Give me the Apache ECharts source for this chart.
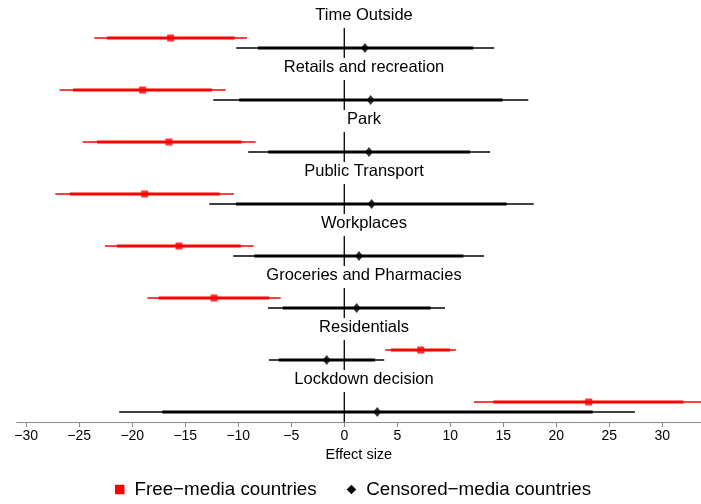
<!DOCTYPE html>
<html>
<head>
<meta charset="utf-8">
<script src="https://cdn.jsdelivr.net/npm/echarts@6/dist/echarts.min.js"></script>
<style>
html,body{margin:0;padding:0;background:#fff;}
#chart{width:701px;height:504px;}
</style>
</head>
<body>
<div id="chart"></div>
<script>
const categories = ['Time Outside','Retails and recreation','Park','Public Transport','Workplaces','Groceries and Pharmacies','Residentials','Lockdown decision'];
// Free-media countries
const freeEst   = [-16.38, -19.02, -16.54, -18.83, -15.59, -12.29, 7.21, 23.06];
const freeLo95  = [-23.58, -26.85, -24.68, -27.26, -22.58, -18.58, 3.87, 12.24];
const freeLo90  = [-22.39, -25.59, -23.33, -25.88, -21.44, -17.51, 4.41, 14.06];
const freeHi90  = [-10.34, -12.48, -9.68, -11.75, -9.77, -7.08, 9.97, 31.98];
const freeHi95  = [-9.18, -11.19, -8.36, -10.41, -8.55, -6.00, 10.54, 35.0];
// Censored-media countries
const censEst   = [1.95, 2.49, 2.33, 2.58, 1.39, 1.17, -1.66, 3.11];
const censLo95  = [-10.19, -12.36, -9.06, -12.74, -10.47, -7.20, -7.10, -21.23];
const censLo90  = [-8.14, -9.91, -7.17, -10.22, -8.49, -5.81, -6.19, -17.17];
const censHi90  = [12.17, 14.94, 11.86, 15.32, 11.23, 8.15, 2.90, 23.43];
const censHi95  = [14.15, 17.36, 13.75, 17.87, 13.18, 9.50, 3.77, 27.42];
const tickValues = [-30,-25,-20,-15,-10,-5,0,5,10,15,20,25,30];
const seriesNames = ['Free\u2212media countries','Censored\u2212media countries'];

const FONT = "'Liberation Sans', Arial, Helvetica, sans-serif";
const X_MIN = -30.9, X_MAX = 33.65;
const N = categories.length;
const grids = [], xAxes = [], yAxes = [], series = [], graphics = [];

function intervalRender(color, thin, thick, drawZero) {
  return function (params, api) {
    const y = api.value(4);
    const a = api.coord([api.value(0), y]);
    const b = api.coord([api.value(1), y]);
    const c = api.coord([api.value(2), y]);
    const d = api.coord([api.value(3), y]);
    const children = [];
    if (drawZero) {
      const z0 = api.coord([0, 0]);
      const z1 = api.coord([0, 3]);
      children.push({type:'line', shape:{x1:z0[0], y1:z0[1], x2:z1[0], y2:z1[1]}, style:{stroke:'#000', lineWidth:1.3}, z2:0});
    }
    children.push({type:'line', shape:{x1:a[0], y1:a[1], x2:d[0], y2:d[1]}, style:{stroke:color, lineWidth:thin}, z2:1});
    children.push({type:'line', shape:{x1:b[0], y1:b[1], x2:c[0], y2:c[1]}, style:{stroke:color, lineWidth:thick}, z2:2});
    return {type:'group', children};
  };
}

for (let i = 0; i < N; i++) {
  const yt = 15 + 52 * i;
  grids.push({left: 16.7, right: 0, top: yt + 13, height: 30, containLabel: false});
  const last = i === N - 1;
  xAxes.push({
    type: 'value', gridIndex: i, min: X_MIN, max: X_MAX, show: last,
    splitLine: {show: false},
    axisLine: {show: last, onZero: false, lineStyle: {color: '#8a8a8a', width: 1}},
    axisTick: {show: last, length: 5, lineStyle: {color: '#8a8a8a'}, customValues: tickValues},
    axisLabel: {show: last, color: '#000', fontSize: 14, fontFamily: FONT, margin: 7,
      customValues: tickValues,
      formatter: v => (v < 0 ? '\u2212' + Math.abs(v) : String(v))},
    name: last ? 'Effect size' : '', nameLocation: 'middle', nameGap: 25,
    nameTextStyle: {color: '#000', fontSize: 14.5, fontFamily: FONT}
  });
  yAxes.push({type: 'value', gridIndex: i, min: 0, max: 3, show: false});
  series.push({
    type: 'custom', name: seriesNames[1], xAxisIndex: i, yAxisIndex: i, clip: true,
    itemStyle: {color: '#000'},
    renderItem: intervalRender('#000', 1.3, 3, true),
    data: [[censLo95[i], censLo90[i], censHi90[i], censHi95[i], 1]], z: 2
  });
  series.push({
    type: 'custom', name: seriesNames[0], xAxisIndex: i, yAxisIndex: i, clip: true,
    itemStyle: {color: '#ff0000'},
    renderItem: intervalRender('#ff0000', 1.4, 3.2, false),
    data: [[freeLo95[i], freeLo90[i], freeHi90[i], freeHi95[i], 2]], z: 2
  });
  series.push({
    type: 'scatter', name: seriesNames[0], xAxisIndex: i, yAxisIndex: i,
    symbol: 'rect', symbolSize: 7, itemStyle: {color: '#ff0000'},
    data: [[freeEst[i], 2]], z: 3
  });
  series.push({
    type: 'scatter', name: seriesNames[1], xAxisIndex: i, yAxisIndex: i,
    symbol: 'diamond', symbolSize: [8, 10], itemStyle: {color: '#000'},
    data: [[censEst[i], 1]], z: 3
  });
  graphics.push({
    type: 'text', x: 364, y: yt,
    style: {text: categories[i], fill: '#000', font: '16.5px ' + FONT, textAlign: 'center', textVerticalAlign: 'middle'}
  });
}

const chart = echarts.init(document.getElementById('chart'), null, {renderer: 'canvas'});
chart.setOption({
  animation: false,
  backgroundColor: '#fff',
  grid: grids, xAxis: xAxes, yAxis: yAxes, series: series,
  graphic: graphics,
  legend: {
    left: 110, top: 475, itemGap: 30, itemWidth: 9.5, itemHeight: 9.5,
    textStyle: {color: '#000', fontSize: 18.8, fontFamily: FONT, padding: [0, 0, 0, 5]},
    data: [
      {name: seriesNames[0], icon: 'rect', itemStyle: {color: '#ff0000'}},
      {name: seriesNames[1], icon: 'diamond', itemStyle: {color: '#000'}}
    ]
  }
});
</script>
</body>
</html>
